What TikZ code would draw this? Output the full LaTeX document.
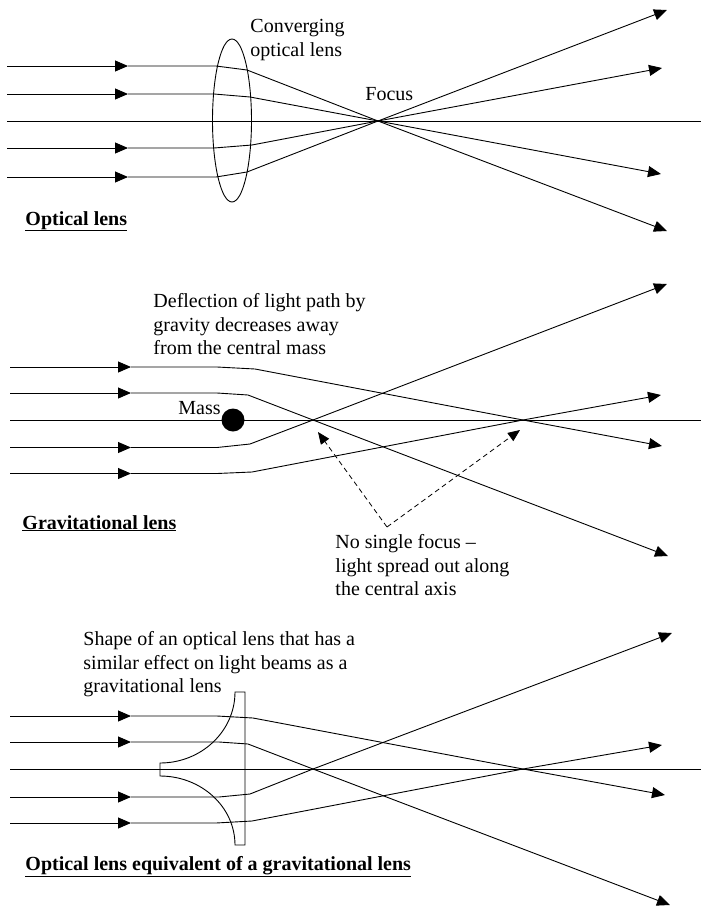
\documentclass[tikz,border=0pt]{standalone}
\usepackage{fontspec}
\setmainfont{Liberation Serif}
\usetikzlibrary{arrows.meta}
\begin{document}
\begin{tikzpicture}[x=1pt,y=-1pt,line width=0.9pt,
  tip/.style={-{Triangle[length=13pt,width=11pt]}},
  lbl/.style={inner sep=0pt,font=\fontsize{20}{23.5}\selectfont,align=left},
  ttl/.style={inner sep=0pt,font=\fontsize{20}{23.5}\selectfont\bfseries},
  guide/.style={dash pattern=on 5pt off 3.5pt,line width=0.8pt,-{Triangle[length=12pt,width=10pt]}}]
\useasboundingbox (0,0) rectangle (701,908);

% ---------- Optical lens ----------
\draw (232,120.5) ellipse [x radius=19.5, y radius=81.5];
\coordinate (F) at (378,121);
\foreach \n/\y in {1/66,2/94,4/148,5/177}{
  \coordinate (ts\n) at (7,\y);
  \coordinate (tm\n) at (128,\y);
  \draw[tip] (ts\n) -- (tm\n);
}
\coordinate (te1) at (667,231);
\coordinate (te2) at (661,174);
\coordinate (te4) at (662,68);
\coordinate (te5) at (667,10);
\draw[tip] (tm1) -- (216,66) -- (247,70) -- (F) -- (te1);
\draw[tip] (tm2) -- (214,94) -- (250,97) -- (F) -- (te2);
\draw[tip] (tm4) -- (214,148) -- (252,145) -- (F) -- (te4);
\draw[tip] (tm5) -- (216,177) -- (247,172) -- (F) -- (te5);
\coordinate (tax0) at (7,121);
\coordinate (tax1) at (701,121);
\draw (tax0) -- (tax1);
\node[lbl,anchor=north west] (conv) at (250,19) {Converging\\optical lens};
\node[lbl,anchor=base west] (focus) at (365,100) {Focus};
\node[ttl,anchor=base west] (t1) at (25,225) {\underline{Optical lens}};

% ---------- Gravitational lens ----------
\coordinate (P) at (313,420);
\coordinate (Q) at (523,420);
\foreach \n/\y in {1/367,2/393,4/447.5,5/473.5}{
  \coordinate (ms\n) at (10,\y);
  \coordinate (mm\n) at (131,\y);
  \draw[tip] (ms\n) -- (mm\n);
}
\coordinate (me1) at (662,446);
\coordinate (me2) at (668,556);
\coordinate (me4) at (667,284);
\coordinate (me5) at (661,395);
\draw[tip] (mm1) -- (217,367) -- (255,369) -- (Q) -- (me1);
\draw[tip] (mm2) -- (217,393) -- (248,395) -- (P) -- (me2);
\draw[tip] (mm4) -- (217,447.5) -- (250,444) -- (P) -- (me4);
\draw[tip] (mm5) -- (217,473.5) -- (252,472) -- (Q) -- (me5);
\coordinate (max0) at (10,420);
\coordinate (max1) at (701,420);
\draw (max0) -- (max1);
\fill (233,420) circle [radius=11.5];
\node[lbl,anchor=base west] (mass) at (178,414) {Mass};
\node[lbl,anchor=north west] (defl) at (153,293) {Deflection of light path by\\gravity decreases away\\from the central mass};
\coordinate (corner) at (387,527);
\coordinate (pt1) at (318,432);
\coordinate (pt2) at (520,430);
\draw[guide] (corner) -- (pt1);
\draw[guide] (corner) -- (pt2);
\node[lbl,anchor=north west] (nosingle) at (335,534) {No single focus --\\light spread out along\\the central axis};
\node[ttl,anchor=base west] (t2) at (22,529) {\underline{Gravitational lens}};

% ---------- Optical equivalent ----------
\draw (235,692) .. controls (235,731.2) and (201.4,763) .. (160,763)
  -- (160,776) .. controls (201.4,776) and (235,806.9) .. (235,845)
  -- (245,845) -- (245,692) -- cycle;
\coordinate (R) at (313,769);
\coordinate (S) at (523,769);
\foreach \n/\y in {1/716,2/742,4/797,5/823}{
  \coordinate (bs\n) at (10,\y);
  \coordinate (bm\n) at (131,\y);
  \draw[tip] (bs\n) -- (bm\n);
}
\coordinate (be1) at (665,795);
\coordinate (be2) at (670,905);
\coordinate (be4) at (672,633);
\coordinate (be5) at (662,745);
\draw[tip] (bm1) -- (217,716) -- (253,718) -- (S) -- (be1);
\draw[tip] (bm2) -- (219,742) -- (248,744) -- (R) -- (be2);
\draw[tip] (bm4) -- (219,797) -- (250,794) -- (R) -- (be4);
\draw[tip] (bm5) -- (216,823) -- (252,821) -- (S) -- (be5);
\coordinate (bax0) at (10,769);
\coordinate (bax1) at (701,769);
\draw (bax0) -- (bax1);
\node[lbl,anchor=north west] (shape) at (83,631) {Shape of an optical lens that has a\\similar effect on light beams as a\\gravitational lens};
\node[ttl,anchor=base west] (t3) at (25,870) {\underline{Optical lens equivalent of a gravitational lens}};
\end{tikzpicture}
\end{document}
